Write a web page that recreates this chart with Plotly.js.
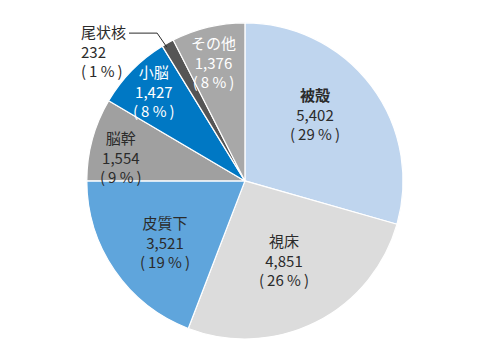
<!DOCTYPE html>
<html><head><meta charset="utf-8">
<script src="https://cdn.plot.ly/plotly-3.0.1.min.js"></script>
<style>body{margin:0;background:#fff}</style>
</head><body><div id="chart" style="width:485px;height:360px"></div>
<script>
const categories = ["被殻","視床","皮質下","脳幹","小脳","尾状核","その他"];
const values = [5402, 4851, 3521, 1554, 1427, 232, 1376];
const percents = [29, 26, 19, 9, 8, 1, 8];

// styles (kept apart from the data)
const colors = ["#bfd5ee","#dcdcdc","#5fa5dc","#a0a0a0","#0078c4","#555555","#a8a8a8"];
const textColors = ["#2b2b2b","#2b2b2b","#2b2b2b","#2b2b2b","#ffffff","#2b2b2b","#ffffff"];
const labelRadius = [0.61, 0.56, 0.635, 0.80, 0.81, null, 0.78];
const labelAngleNudge = [-6.7, 0, -3, -4.4, 0, 0, -1.5];

const W = 485, H = 360;
const FONT = "Noto Sans CJK JP, sans-serif";
const FSIZE = 15;
const domX = [0.179, 0.831], domY = [0.056, 0.939];
const cxPx = (domX[0] + domX[1]) / 2 * W;
const cyPx = (1 - (domY[0] + domY[1]) / 2) * H;
const Rpx = Math.min((domX[1] - domX[0]) * W, (domY[1] - domY[0]) * H) / 2;

const fmt = v => v.toLocaleString("en-US");
const pct = p => "(\u2009" + p + " %\u2009)";
const total = values.reduce((a, b) => a + b, 0);

const trace = {
  type: "pie",
  labels: categories,
  values: values,
  textinfo: "none",
  sort: false,
  direction: "clockwise",
  rotation: 0,
  marker: {colors: colors, line: {color: "#ffffff", width: 1.2}},
  hoverinfo: "none",
  domain: {x: domX, y: domY},
  showlegend: false
};

const annotations = [];
let cum = 0;
categories.forEach((c, i) => {
  const frac = values[i] / total;
  const midDeg = (cum + frac / 2) * 360 + labelAngleNudge[i];
  cum += frac;
  if (labelRadius[i] === null) return;
  const a = midDeg * Math.PI / 180;
  const r = labelRadius[i] * Rpx;
  const xPx = cxPx + r * Math.sin(a);
  const yPx = cyPx - r * Math.cos(a);
  const name = c === "被殻" ? "<b>" + c + "</b>" : c;
  annotations.push({
    xref: "paper", yref: "paper", x: xPx / W, y: 1 - yPx / H,
    xanchor: "center", yanchor: "middle", align: "center", showarrow: false,
    text: name + "<br>" + fmt(values[i]) + "<br>" + pct(percents[i]),
    font: {family: FONT, size: FSIZE, color: textColors[i]}
  });
});

const ci = categories.indexOf("尾状核");
annotations.push({
  xref: "paper", yref: "paper", x: 0.162, y: 0.948, xanchor: "left", yanchor: "top",
  align: "left", showarrow: false,
  text: categories[ci] + "<br>" + fmt(values[ci]) + "<br>" + pct(percents[ci]),
  font: {family: FONT, size: FSIZE, color: textColors[ci]}
});

const layout = {
  width: W, height: H,
  margin: {l:0, r:0, t:0, b:0},
  paper_bgcolor: "#ffffff",
  showlegend: false,
  annotations: annotations,
  shapes: [{
    type: "path", xref: "paper", yref: "paper",
    path: "M 0.266 0.908 L 0.324 0.908 L 0.344 0.869",
    line: {color: "#2b2b2b", width: 1}
  }]
};
Plotly.newPlot("chart", [trace], layout, {displayModeBar: false, staticPlot: true});
</script></body></html>
